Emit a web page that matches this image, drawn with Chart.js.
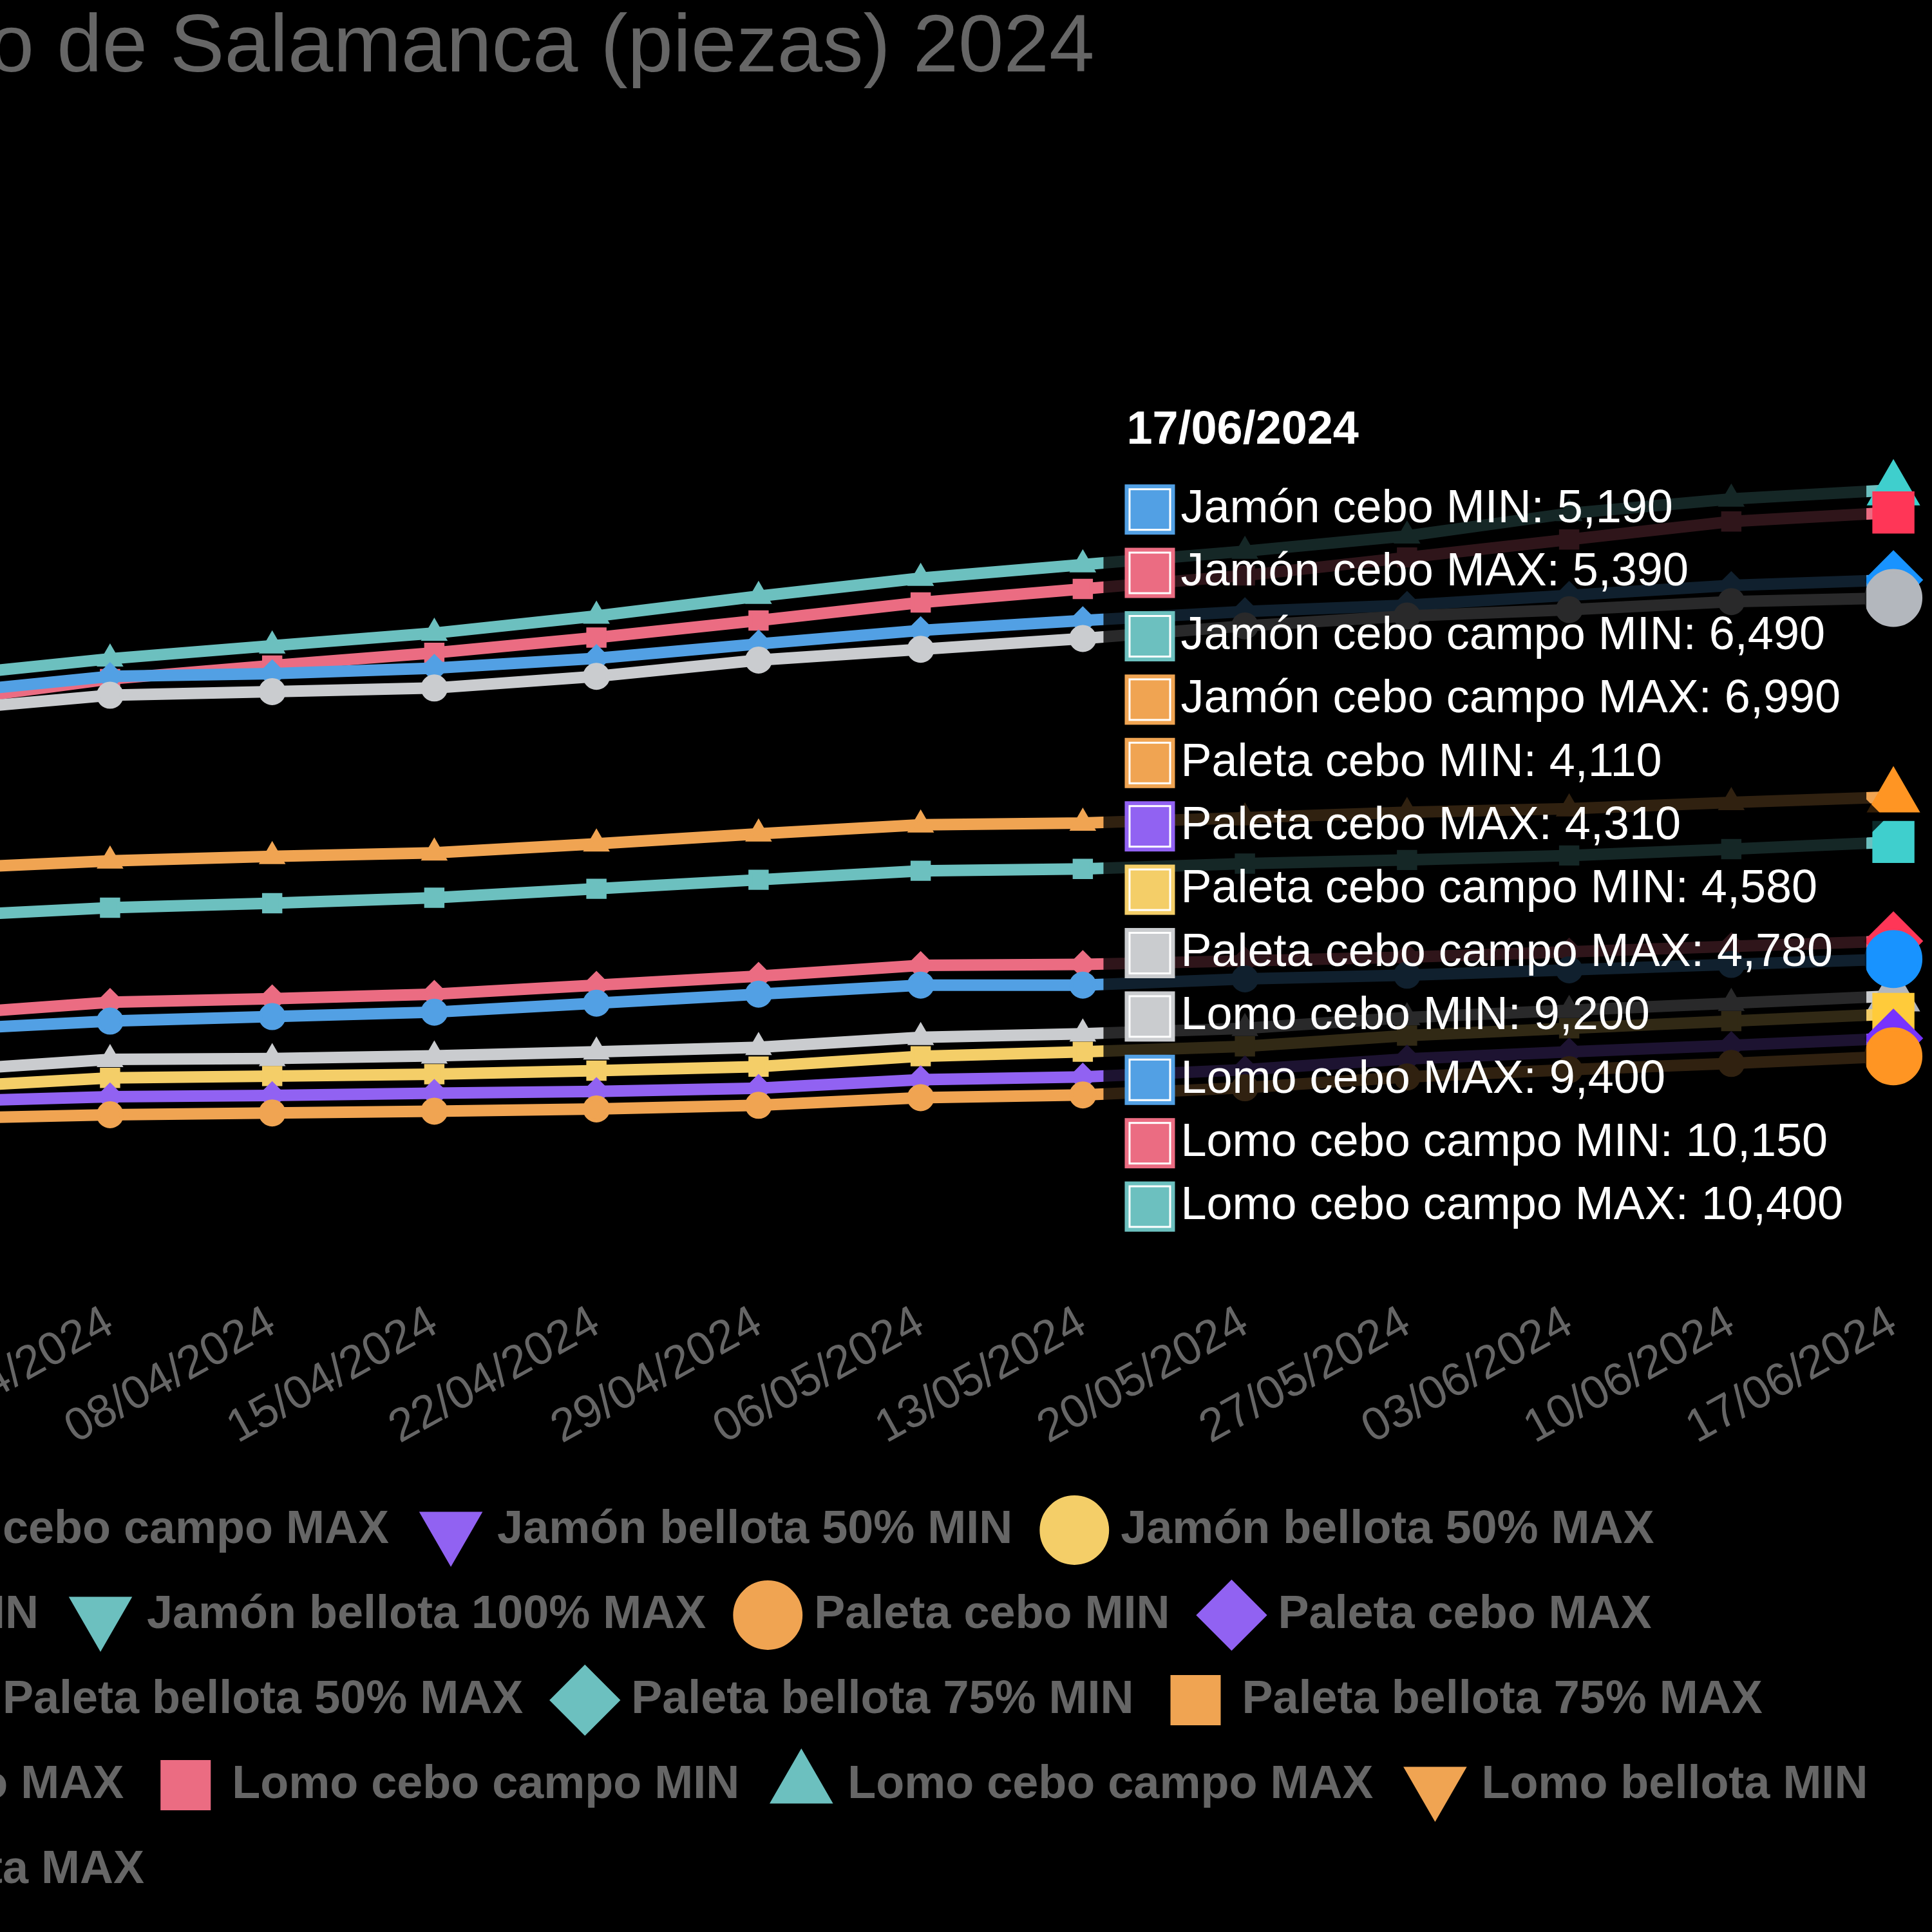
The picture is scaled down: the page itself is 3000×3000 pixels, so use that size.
<!DOCTYPE html>
<html lang="es">
<head>
<meta charset="utf-8">
<title>Precios cerdo ibérico Salamanca 2024</title>
<script src="https://cdn.jsdelivr.net/npm/chart.js@4.4.1/dist/chart.umd.min.js"></script>
<style>
    html, body { margin: 0; padding: 0; background: #000; overflow: hidden; width: 3000px; height: 3000px; }
    /* laid out in CSS px and blown up 6x, the same way a devicePixelRatio 6 render looks */
    #stage { position: absolute; left: 0; top: 0; width: 500px; height: 500px; transform: scale(6); transform-origin: 0 0; }
    #wrap { position: absolute; left: -548.5px; top: -10.5px; }
</style>
</head>
<body>
<div id="stage"><div id="wrap"><canvas id="price-chart" width="1048" height="510"></canvas></div></div>
<script>
Chart.defaults.font.family = "'Liberation Sans', Arial, sans-serif";
Chart.defaults.color = "#666";

const chartTitle = "Precios de la Lonja del cerdo ibérico de Salamanca (piezas) 2024";

const labels = [
    "08/01/2024", "15/01/2024", "22/01/2024", "29/01/2024", "05/02/2024", "12/02/2024",
    "19/02/2024", "26/02/2024", "04/03/2024", "11/03/2024", "18/03/2024", "25/03/2024",
    "01/04/2024", "08/04/2024", "15/04/2024", "22/04/2024", "29/04/2024", "06/05/2024",
    "13/05/2024", "20/05/2024", "27/05/2024", "03/06/2024", "10/06/2024", "17/06/2024",
];

const seriesNames = [
    "Jamón cebo MIN", "Jamón cebo MAX", "Jamón cebo campo MIN", "Jamón cebo campo MAX",
    "Jamón bellota 50% MIN", "Jamón bellota 50% MAX", "Jamón bellota 75% MIN", "Jamón bellota 75% MAX",
    "Jamón bellota 100% MIN", "Jamón bellota 100% MAX",
    "Paleta cebo MIN", "Paleta cebo MAX", "Paleta cebo campo MIN", "Paleta cebo campo MAX",
    "Paleta bellota 50% MIN", "Paleta bellota 50% MAX", "Paleta bellota 75% MIN", "Paleta bellota 75% MAX",
    "Paleta bellota 100% MIN", "Paleta bellota 100% MAX",
    "Lomo cebo MIN", "Lomo cebo MAX", "Lomo cebo campo MIN", "Lomo cebo campo MAX",
    "Lomo bellota MIN", "Lomo bellota MAX",
];

// weekly values from 25/03 to 17/06 (earlier weeks are outside the view)
const jamonCeboMin = [4410, 4500, 4550, 4600, 4700, 4800, 4900, 4900, 4970, 5010, 5070, 5130, 5190];
const jamonCeboMax = [4580, 4710, 4750, 4800, 4900, 5000, 5120, 5130, 5170, 5210, 5270, 5330, 5390];
const jamonCampoMin = [5670, 5760, 5810, 5870, 5970, 6070, 6170, 6190, 6250, 6290, 6340, 6410, 6490];
const jamonCampoMax = [6200, 6280, 6330, 6370, 6470, 6580, 6680, 6700, 6760, 6820, 6860, 6930, 6990];
const paletaCeboMin = [3420, 3460, 3480, 3500, 3525, 3565, 3650, 3680, 3760, 3880, 3960, 4030, 4110];
const paletaCeboMax = [3610, 3660, 3675, 3700, 3720, 3755, 3850, 3880, 3960, 4080, 4160, 4230, 4310];
const paletaCampoMin = [3770, 3870, 3890, 3910, 3950, 3995, 4110, 4160, 4220, 4340, 4420, 4500, 4580];
const paletaCampoMax = [3955, 4075, 4085, 4115, 4160, 4210, 4320, 4360, 4420, 4540, 4620, 4700, 4780];
const lomoCeboMin = [7960, 8120, 8160, 8200, 8330, 8510, 8630, 8750, 8890, 9000, 9070, 9160, 9200];
const lomoCeboMax = [8150, 8330, 8360, 8420, 8530, 8690, 8840, 8950, 9050, 9120, 9230, 9340, 9400];
const lomoCampoMin = [8060, 8300, 8450, 8590, 8760, 8950, 9150, 9300, 9450, 9650, 9850, 10050, 10150];
const lomoCampoMax = [8340, 8525, 8670, 8810, 9000, 9220, 9420, 9570, 9720, 9890, 10140, 10300, 10400];
const noData = []; // bellota series: in the legend, no line in view

const seriesData = [
    jamonCeboMin, jamonCeboMax, jamonCampoMin, jamonCampoMax,
    noData, noData, noData, noData, noData, noData,
    paletaCeboMin, paletaCeboMax, paletaCampoMin, paletaCampoMax,
    noData, noData, noData, noData, noData, noData,
    lomoCeboMin, lomoCeboMax, lomoCampoMin, lomoCampoMax,
    noData, noData,
];

const palette = ["#52A0E4", "#EB6C82", "#6CC0BF", "#F0A452", "#9162F2", "#F4CE68", "#CACCCF"];
const markers = [["circle", 0], ["rectRot", 0], ["rect", 0], ["triangle", 0], ["triangle", 180]];

const pad = (values) => {
    if (!values.length) return [];
    return [...Array(labels.length - values.length).fill(null), ...values];
};

const datasets = seriesNames.map((name, i) => {
    const color = palette[i % palette.length];
    const [pointStyle, pointRotation] = markers[i % markers.length];
    return {
        label: name,
        data: pad(seriesData[i]),
        borderColor: color,
        backgroundColor: color,
        pointStyle,
        pointRotation,
        pointHoverRadius: 7,
        clip: false,
    };
});

const chart = new Chart(document.getElementById("price-chart"), {
    type: "line",
    data: { labels, datasets },
    options: {
        responsive: false,
        devicePixelRatio: 6,
        animation: false,
        events: [],
        locale: "en-US",
        plugins: {
            title: {
                display: true,
                text: chartTitle,
                font: { size: 21.1, weight: "normal" },
                padding: { top: 10, bottom: 17.6 },
            },
            legend: {
                position: "bottom",
                labels: { usePointStyle: true, font: { weight: "bold" } },
            },
            tooltip: { mode: "index", intersect: false },
        },
        scales: {
            x: { grid: { tickLength: 9.75 } },
            y: {
                min: 2000,
                max: 14000,
                afterFit: (scale) => {
                    scale.width = 73;
                },
            },
        },
    },
});

// hover state on the last week, as in the reference
const last = labels.length - 1;
const active = seriesData
    .map((values, i) => (values.length ? { datasetIndex: i, index: last } : null))
    .filter(Boolean);
chart.setActiveElements(active);
chart.tooltip.setActiveElements(active, { x: 0, y: 0 });
chart.update();
</script>
</body>
</html>
